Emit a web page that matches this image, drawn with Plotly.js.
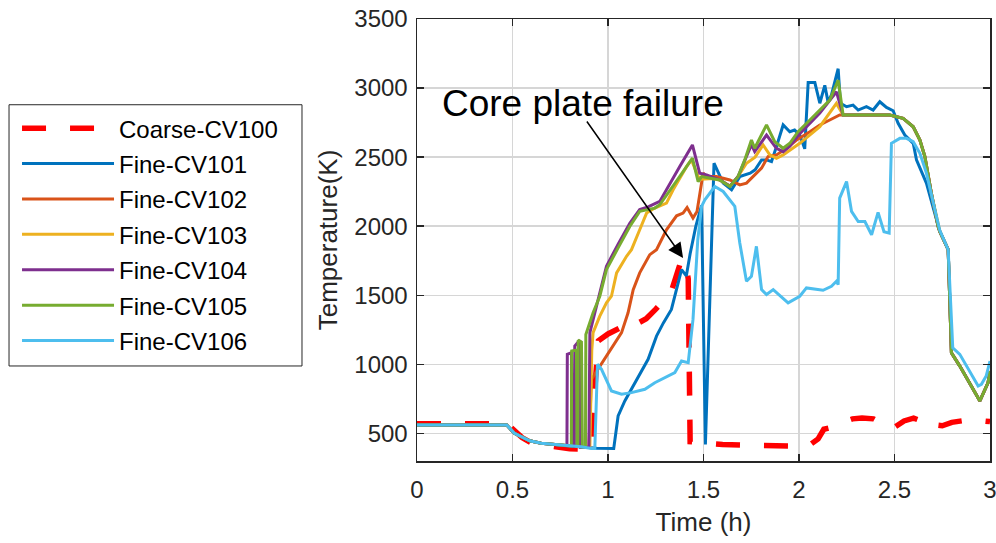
<!DOCTYPE html>
<html>
<head>
<meta charset="utf-8">
<script src="https://cdn.plot.ly/plotly-3.0.1.min.js"></script>
<style>html,body{margin:0;padding:0;background:#fff;}#chart{width:996px;height:543px;}</style>
</head>
<body>
<div id="chart"></div>
<script>
// ---- Data ----
const seriesNames = ["Coarse-CV100","Fine-CV101","Fine-CV102","Fine-CV103","Fine-CV104","Fine-CV105","Fine-CV106"];

const cv100_t = [0,0.47,0.51,0.55,0.6,0.7,0.8,0.88,0.91,0.935,0.95,1.0,1.05,1.1,1.12,1.15,1.2,1.25,1.33,1.385,1.41,1.42,1.43,1.5,1.6,1.8,2.0,2.06,2.1,2.13,2.16,2.2,2.28,2.33,2.39,2.45,2.49,2.55,2.6,2.65,2.68,2.7,2.72,2.75,2.8,2.9,3.0];
const cv100_T = [570,570,520,470,430,405,388,385,400,900,1170,1220,1260,1290,1270,1295,1330,1400,1520,1760,1700,1620,440,430,420,412,408,420,460,530,540,565,605,612,605,560,535,590,610,585,575,590,560,555,580,600,585];

const cv101_t = [0,0.47,0.51,0.55,0.59,0.65,0.74,0.86,0.94,1.03,1.053,1.088,1.15,1.21,1.254,1.29,1.332,1.385,1.41,1.43,1.46,1.49,1.51,1.555,1.603,1.647,1.69,1.744,1.77,1.804,1.83,1.856,1.882,1.917,1.952,1.977,2.004,2.03,2.048,2.083,2.109,2.135,2.152,2.17,2.205,2.217,2.249,2.283,2.31,2.353,2.388,2.423,2.458,2.493,2.519,2.554,2.598,2.615,2.667,2.72,2.737,2.781,2.798,2.842,2.947,2.99,3.0];
const cv101_T = [560,560,500,470,446,429,417,403,392,391,626,735,890,1036,1204,1300,1397,1686,1640,1800,2000,2150,420,2456,2312,2263,2359,2384,2408,2480,2480,2468,2576,2733,2684,2696,2660,2560,3040,3040,2890,3020,2900,2950,3140,2890,2865,2877,2841,2865,2841,2901,2860,2836,2745,2660,2600,2480,2312,2047,1962,1830,1084,987,735,868,950];

const cv102_t = [0,0.47,0.51,0.55,0.59,0.65,0.74,0.86,0.9,0.913,0.974,1.027,1.071,1.105,1.132,1.166,1.219,1.254,1.306,1.359,1.393,1.414,1.445,1.466,1.49,1.498,1.516,1.568,1.638,1.69,1.725,1.804,1.838,1.882,1.935,1.987,2.057,2.109,2.161,2.213,2.475,2.545,2.598,2.633,2.659,2.693,2.728,2.737,2.781,2.798,2.842,2.947,2.99,3.0];
const cv102_T = [560,560,500,470,446,429,417,403,398,890,1024,1132,1229,1373,1541,1662,1794,1830,1974,2075,2095,2135,2059,2107,2335,2384,2359,2359,2335,2299,2312,2420,2504,2516,2564,2624,2684,2733,2769,2805,2805,2781,2720,2624,2504,2239,1998,1962,1830,1084,987,735,868,951];

const cv103_t = [0,0.47,0.51,0.55,0.59,0.65,0.74,0.86,0.905,0.915,0.922,0.957,0.992,1.018,1.045,1.097,1.123,1.166,1.202,1.245,1.306,1.341,1.411,1.437,1.472,1.49,1.55,1.585,1.638,1.681,1.725,1.77,1.812,1.847,1.882,1.917,2.004,2.109,2.196,2.231,2.475,2.545,2.598,2.633,2.659,2.693,2.728,2.737,2.781,2.798,2.842,2.947,2.99,3.0];
const cv103_T = [560,560,500,470,446,429,417,403,398,1100,1229,1349,1445,1493,1662,1782,1830,1974,2095,2131,2167,2263,2431,2480,2359,2340,2345,2335,2290,2360,2456,2500,2588,2516,2492,2516,2600,2720,2889,2805,2805,2781,2720,2624,2504,2239,1998,1962,1830,1084,987,735,868,951];

const cv104_t = [0,0.47,0.51,0.55,0.59,0.65,0.74,0.785,0.787,0.809,0.812,0.824,0.826,0.852,0.855,0.9,0.905,0.95,0.992,1.053,1.114,1.166,1.21,1.271,1.324,1.375,1.442,1.48,1.516,1.585,1.638,1.681,1.751,1.768,1.83,1.882,1.917,1.952,2.004,2.109,2.196,2.231,2.475,2.545,2.598,2.633,2.659,2.693,2.728,2.737,2.781,2.798,2.842,2.947,2.99,3.0];
const cv104_T = [560,560,500,470,446,429,417,410,1072,1084,405,405,1132,1175,400,398,1229,1480,1710,1870,2020,2120,2140,2179,2312,2431,2588,2384,2372,2335,2290,2360,2590,2540,2660,2564,2540,2580,2670,2820,2973,2805,2805,2781,2720,2624,2504,2239,1998,1962,1830,1084,987,735,868,951];

const cv105_t = [0,0.47,0.51,0.55,0.59,0.65,0.74,0.808,0.81,0.835,0.838,0.842,0.844,0.861,0.866,0.882,0.884,0.922,0.957,0.992,1.053,1.114,1.166,1.21,1.245,1.271,1.324,1.375,1.442,1.472,1.49,1.533,1.585,1.638,1.681,1.716,1.751,1.768,1.83,1.873,1.917,1.952,1.995,2.057,2.109,2.161,2.205,2.231,2.475,2.545,2.598,2.633,2.659,2.693,2.728,2.737,2.781,2.798,2.842,2.947,2.99,3.0];
const cv105_T = [560,560,500,470,446,429,417,408,1096,1103,405,405,1175,1161,400,398,1216,1373,1493,1686,1843,1998,2107,2119,2131,2155,2263,2359,2492,2323,2359,2347,2335,2287,2359,2480,2624,2564,2733,2612,2564,2600,2684,2769,2841,2913,3057,2805,2805,2781,2720,2624,2504,2239,1998,1962,1830,1084,987,735,868,951];

const cv106_t = [0,0.47,0.51,0.55,0.59,0.65,0.74,0.86,0.913,0.931,0.945,0.966,1.018,1.071,1.123,1.193,1.245,1.315,1.35,1.385,1.42,1.445,1.47,1.49,1.507,1.559,1.603,1.664,1.69,1.725,1.751,1.777,1.804,1.83,1.865,1.943,2.004,2.039,2.126,2.17,2.196,2.205,2.213,2.249,2.275,2.31,2.345,2.38,2.414,2.445,2.472,2.484,2.528,2.563,2.598,2.633,2.667,2.72,2.737,2.781,2.805,2.842,2.938,2.955,2.98,3.0];
const cv106_T = [560,560,500,470,446,429,417,403,390,390,1000,964,807,783,795,819,867,915,940,1024,1012,1325,1900,2143,2191,2287,2251,2143,1878,1601,1637,1854,1541,1505,1541,1445,1493,1553,1536,1565,1601,1577,2203,2323,2107,2034,2034,1938,2100,1960,1950,2600,2636,2636,2612,2528,2384,2070,1970,1830,1120,1072,843,855,915,1024];

const xTickVals = [0,0.5,1,1.5,2,2.5,3];
const xTickText = ["0","0.5","1","1.5","2","2.5","3"];
const yTickVals = [500,1000,1500,2000,2500,3000,3500];
const yTickText = ["500","1000","1500","2000","2500","3000","3500"];

const annText = "Core plate failure";
const annTextPos = [0.871, 2891];
const arrowHead = [1.393, 1770];
const arrowTail = [0.884, 2769];

// ---- Styles ----
const colors = ["#FF0000","#0072BD","#D95319","#EDB120","#7E2F8E","#77AC30","#4DBEEE"];
const xs = [cv100_t,cv101_t,cv102_t,cv103_t,cv104_t,cv105_t,cv106_t];
const ys = [cv100_T,cv101_T,cv102_T,cv103_T,cv104_T,cv105_T,cv106_T];

const traces = seriesNames.map((n,i)=>({
  type:'scatter', mode:'lines', name:n, x:xs[i], y:ys[i],
  line: i===0 ? {color:colors[i], width:5.5, dash:'24px,24px'} : {color:colors[i], width:3},
  legendgroup:'g'+i
}));

const FONT = "Liberation Sans, Arial, sans-serif";
const axisCommon = {
  showline:true, linecolor:'#262626', linewidth:1.5, mirror:'ticks',
  ticks:'inside', ticklen:7, tickwidth:1.5, tickcolor:'#262626',
  showgrid:true, gridcolor:'#d6d6d6', gridwidth:1.5, zeroline:false,
  ticklabeloverflow:'allow',
  tickfont:{family:FONT, size:24, color:'#262626'}
};

const layout = {
  width:996, height:543,
  margin:{l:417, r:6, t:19, b:82},
  paper_bgcolor:'#fff', plot_bgcolor:'#fff',
  font:{family:FONT, size:24, color:'#262626'},
  xaxis: Object.assign({}, axisCommon, {
    range:[0,3], tickvals:xTickVals, ticktext:xTickText, ticklabelstandoff:7,
    title:{text:'Time (h)', font:{family:FONT, size:26, color:'#262626'}, standoff:10}
  }),
  yaxis: Object.assign({}, axisCommon, {
    range:[300,3500], tickvals:yTickVals, ticktext:yTickText, ticklabelstandoff:3,
    title:{text:'Temperature(K)', font:{family:FONT, size:26, color:'#262626'}, standoff:9}
  }),
  showlegend:true,
  legend:{
    x:-0.712, y:0.803, xanchor:'left', yanchor:'top',
    bgcolor:'rgba(0,0,0,0)', borderwidth:0,
    font:{family:FONT, size:24, color:'#000'},
    itemwidth:92, indentation:8, tracegroupgap:1.2, traceorder:'grouped'
  },
  shapes:[
    {type:'rect', xref:'paper', yref:'paper', x0:-0.712, x1:-0.2007, y0:0.215, y1:0.806,
     line:{color:'#262626', width:1}, fillcolor:'#ffffff', layer:'above'}
  ],
  annotations:[
    {x:annTextPos[0], y:annTextPos[1], xref:'x', yref:'y', text:annText, showarrow:false,
     font:{family:FONT, size:37, color:'#000'}, xanchor:'center', yanchor:'middle'},
    {x:arrowHead[0], y:arrowHead[1], ax:arrowTail[0], ay:arrowTail[1], xref:'x', yref:'y', axref:'x', ayref:'y',
     text:'', showarrow:true, arrowhead:2, arrowsize:2, arrowwidth:1.5, arrowcolor:'#000'}
  ]
};

Plotly.newPlot('chart', traces, layout, {displayModeBar:false, staticPlot:true});
</script>
</body>
</html>
